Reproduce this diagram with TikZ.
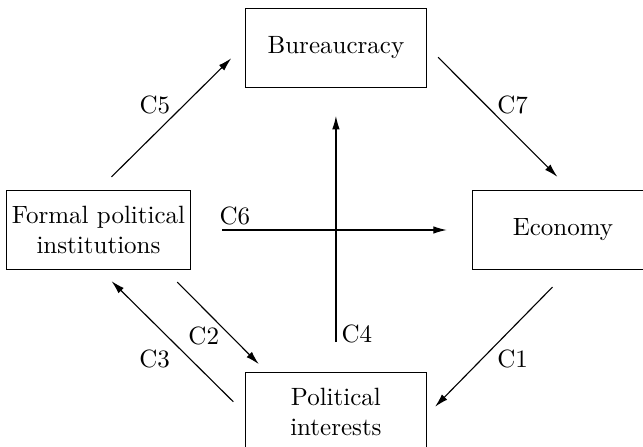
\documentclass[tikz,border=0pt]{standalone}
\usepackage{tikz}
\usetikzlibrary{arrows.meta,positioning,calc}
\tikzset{
  actorbox/.style={draw, line width=0.5pt, minimum width=72.4pt, minimum height=31.6pt, font=\normalsize, align=center, inner sep=2pt},
  linkarrow/.style={-{Latex[length=5.4pt,width=3pt]}, line width=0.45pt},
  linklabel/.style={font=\normalsize, inner sep=0pt},
}
\begin{document}
\begin{tikzpicture}[node distance=40.8pt and 21.6pt]
  \useasboundingbox (-39.4pt,-86.8pt) rectangle (217.8pt,92pt);

  \node[actorbox] (formal) at (0,0) {Formal political\\institutions};
  \node[actorbox, above right=of formal] (bureau) {Bureaucracy};
  \node[actorbox, below right=of formal] (polint) {Political\\interests};
  \node[actorbox, right=112.4pt of formal] (economy) {Economy};

  \draw[linkarrow] ($(economy.south)+(-4.2pt,-6.8pt)$) -- node[linklabel, pos=0.47, xshift=6.1pt, yshift=-6.1pt] {C1} ($(polint.east)+(3.2pt,2.2pt)$);
  \draw[linkarrow] ($(formal.south east)+(-5.4pt,-4.8pt)$) -- node[linklabel, pos=0.49, xshift=-5.4pt, yshift=-5.4pt] {C2} ($(polint.north west)+(5.6pt,3.2pt)$);
  \draw[linkarrow] ($(polint.west)+(-4.6pt,4.2pt)$) -- node[linklabel, pos=0.5, xshift=-7.1pt, yshift=-7.1pt] {C3} ($(formal.south)+(5.2pt,-4.4pt)$);
  \draw[linkarrow] ($(polint.north)+(0,12pt)$) -- node[linklabel, pos=0.036, xshift=8.4pt] {C4} ($(bureau.south)+(0,-11.2pt)$);
  \draw[linkarrow] ($(formal.north)+(5.2pt,5.2pt)$) -- node[linklabel, pos=0.485, xshift=-5.9pt, yshift=5.9pt] {C5} ($(bureau.west)+(-5.4pt,-4.2pt)$);
  \draw[linkarrow] ($(formal.east)+(12.6pt,0)$) -- node[linklabel, pos=0.056, yshift=5.6pt] {C6} ($(economy.west)+(-10pt,0)$);
  \draw[linkarrow] ($(bureau.east)+(4.4pt,-3.8pt)$) -- node[linklabel, pos=0.51, xshift=5.5pt, yshift=5.5pt] {C7} ($(economy.north)+(-2.2pt,5.2pt)$);
\end{tikzpicture}
\end{document}
